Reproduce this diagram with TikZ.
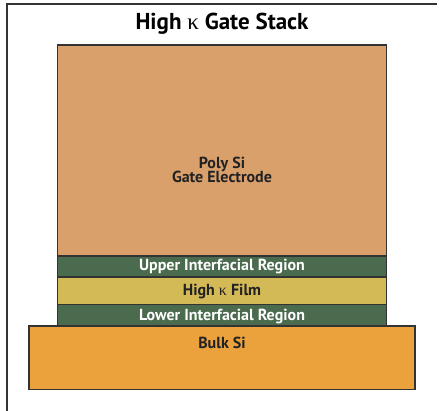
\documentclass[tikz,border=0pt]{standalone}
\usepackage{fontspec}
\setmainfont{PT Sans}
\newfontfamily\kapfont{Liberation Serif}
\definecolor{polycol}{HTML}{D9A06C}
\definecolor{greencol}{HTML}{4A6B4E}
\definecolor{filmcol}{HTML}{D4B957}
\definecolor{bulkcol}{HTML}{EBA23C}
\definecolor{edgecol}{HTML}{333333}
\definecolor{txtcol}{HTML}{222222}
\begin{document}
\begin{tikzpicture}[x=1pt,y=-1pt,
  layer/.style={draw=edgecol,line width=1.2pt},
  lbl/.style={font=\bfseries\fontsize{16}{17}\selectfont,inner sep=0pt,anchor=base},
  darklbl/.style={lbl,text=txtcol},
  lightlbl/.style={lbl,text=white}]
\useasboundingbox (0,0) rectangle (439,411);
\coordinate (ftop) at (437,4);
\coordinate (fcorner) at (7,4);
\coordinate (fbot) at (7,411);
\draw[edgecol,line width=2pt] (ftop) -- (fcorner) -- (fbot);
\node[font=\bfseries\fontsize{23}{25}\selectfont,text=black,inner sep=0pt,anchor=base] (title) at (222,30) {High {\kapfont\mdseries κ} Gate Stack};
\filldraw[layer,fill=polycol] (57.5,45) rectangle (386.5,256) node[pos=0.5] (poly) {};
\filldraw[layer,fill=greencol] (57.5,256) rectangle (386.5,277) node[pos=0.5] (upper) {};
\filldraw[layer,fill=filmcol] (57.5,277) rectangle (386.5,304.5) node[pos=0.5] (film) {};
\filldraw[layer,fill=greencol] (57.5,304.5) rectangle (386.5,326) node[pos=0.5] (lower) {};
\filldraw[layer,fill=bulkcol] (29,326) rectangle (415,389.5) node[pos=0.5] (bulk) {};
\node[darklbl] (polytxt) at (222,168.3) {Poly Si};
\node[darklbl] (gatetxt) at (222,182.7) {Gate Electrode};
\node[lightlbl] (uppertxt) at (222,270.5) {Upper Interfacial Region};
\node[darklbl] (filmtxt) at (222,295.5) {High {\kapfont\mdseries κ} Film};
\node[lightlbl] (lowertxt) at (222,320.5) {Lower Interfacial Region};
\node[darklbl] (bulktxt) at (222,348.5) {Bulk Si};
\end{tikzpicture}
\end{document}
